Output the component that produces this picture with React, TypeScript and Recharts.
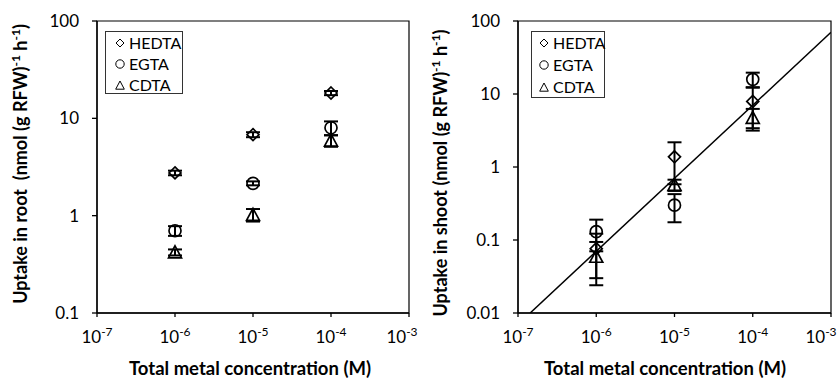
import React from 'react';
import { ScatterChart, Scatter, XAxis, YAxis, ErrorBar, Legend, ReferenceArea } from 'recharts';

const FONT = 'Lato, "Open Sans", sans-serif';

const concentrations = [1e-6, 1e-5, 1e-4];
const xTicks = [1e-7, 1e-6, 1e-5, 1e-4, 1e-3];
const xTickExponents = ['-7', '-6', '-5', '-4', '-3'];
const rootYTicks = [0.1, 1, 10, 100];
const shootYTicks = [0.01, 0.1, 1, 10, 100];
const seriesNames = ['HEDTA', 'EGTA', 'CDTA'];

// Root uptake
const rootHEDTA = [2.75, 6.8, 18.2];
const rootHEDTAErr = [0.15, 0.4, 0.9];
const rootEGTA = [0.7, 2.15, 8.0];
const rootEGTAErr = [0.08, 0.1, 1.3];
const rootCDTA = [0.42, 1.02, 5.9];
const rootCDTAErr = [0.03, 0.15, 0.8];

// Shoot uptake
const shootHEDTA = [0.076, 1.38, 7.9];
const shootHEDTAErr = [0.046, 0.8, 4.5];
const shootEGTA = [0.13, 0.3, 15.9];
const shootEGTAErr = [0.06, 0.125, 3.7];
const shootCDTA = [0.059, 0.57, 4.7];
const shootCDTAErr = [0.035, 0.1, 1.55];

// Fitted line (slope 1 on log-log)
const fitX = [1.43e-7, 1e-3];
const fitY = [0.01, 70];

const toPoints = (ys: number[], errs: number[]) =>
  concentrations.map((x, i) => ({ x, y: ys[i], err: errs[i] }));

const rootSeries = [
  toPoints(rootHEDTA, rootHEDTAErr),
  toPoints(rootEGTA, rootEGTAErr),
  toPoints(rootCDTA, rootCDTAErr),
];
const shootSeries = [
  toPoints(shootHEDTA, shootHEDTAErr),
  toPoints(shootEGTA, shootEGTAErr),
  toPoints(shootCDTA, shootCDTAErr),
];
const fitData = fitX.map((x, i) => ({ x, y: fitY[i] }));

const SW = 1.7;
const DiamondShape = (p: any) => {
  const { cx, cy } = p;
  const s = 6;
  return (
    <path d={`M${cx},${cy - s}L${cx + s},${cy}L${cx},${cy + s}L${cx - s},${cy}Z`} fill="none" stroke="#000" strokeWidth={SW} />
  );
};
const CircleShape = (p: any) => {
  const { cx, cy } = p;
  return <circle cx={cx} cy={cy} r={6} fill="none" stroke="#000" strokeWidth={SW} />;
};
const TriangleShape = (p: any) => {
  const { cx, cy } = p;
  const s = 6.5;
  return (
    <path d={`M${cx},${cy - s}L${cx + s},${cy + s * 0.85}L${cx - s},${cy + s * 0.85}Z`} fill="none" stroke="#000" strokeWidth={SW} />
  );
};
const NoShape = () => <g />;
const shapes = [DiamondShape, CircleShape, TriangleShape];

const LegendIcon = ({ idx }: { idx: number }) => {
  let el: any;
  if (idx === 0) el = <path d="M5,1L9,5L5,9L1,5Z" fill="none" stroke="#000" strokeWidth={1} />;
  else if (idx === 1) el = <circle cx={5} cy={5} r={4.2} fill="none" stroke="#000" strokeWidth={1} />;
  else el = <path d="M5,1L9.3,9.2L0.7,9.2Z" fill="none" stroke="#000" strokeWidth={1} />;
  return (
    <svg width={10} height={10} style={{ display: 'block', flexShrink: 0 }}>
      {el}
    </svg>
  );
};

const makeLegend = (w: number, h: number, rowH: number, padTop: number, padLeft: number, gap: number) => () => (
  <div
    style={{
      width: w,
      height: h,
      boxSizing: 'border-box',
      border: '1px solid #333',
      background: '#fff',
      paddingTop: padTop,
      paddingLeft: padLeft,
      fontFamily: FONT,
      fontSize: 16,
      color: '#000',
      overflow: 'visible',
    }}
  >
    {seriesNames.map((n, i) => (
      <div key={n} style={{ display: 'flex', alignItems: 'center', height: rowH, whiteSpace: 'nowrap' }}>
        <LegendIcon idx={i} />
        <span style={{ marginLeft: gap, lineHeight: 1, flexShrink: 0 }}>{n}</span>
      </div>
    ))}
  </div>
);

const XTick = (props: any) => {
  const { x, y, payload } = props;
  const i = xTicks.indexOf(payload.value);
  return (
    <text x={x} y={y + 24} textAnchor="middle" fontFamily={FONT} fontSize={17} fill="#000">
      <tspan>10</tspan>
      <tspan dy={-7} fontSize={12}>
        {xTickExponents[i]}
      </tspan>
    </text>
  );
};

const yFmt = (v: number) => String(v);

const YTitle = ({ cx, cy, head }: { cx: number; cy: number; head: string }) => (
  <text
    x={cx}
    y={cy}
    transform={`rotate(-90 ${cx} ${cy})`}
    textAnchor="middle"
    fontFamily={FONT}
    fontWeight="bold"
    fontSize={18}
    fill="#000"
    style={{ whiteSpace: 'pre' }}
  >
    <tspan>{head}</tspan>
    <tspan dy={-7} fontSize={12}>-1</tspan>
    <tspan dy={7}> h</tspan>
    <tspan dy={-7} fontSize={12}>-1</tspan>
    <tspan dy={7}>)</tspan>
  </text>
);

const XTitle = ({ cx, y }: { cx: number; y: number }) => (
  <text x={cx} y={y} textAnchor="middle" fontFamily={FONT} fontWeight="bold" fontSize={18.5} fill="#000">
    Total metal concentration (M)
  </text>
);

type PanelProps = {
  width: number;
  rightMargin: number;
  yAxisWidth: number;
  yTicks: number[];
  yDomain: [number, number];
  series: { x: number; y: number; err: number }[][];
  showFit: boolean;
  yTitleHead: string;
  yTitleCy: number;
  xTitleCx: number;
  legend: any;
  legendPos: { left: number; top: number };
};

const Panel = (p: PanelProps) => (
  <ScatterChart width={p.width} height={385} margin={{ top: 21, right: p.rightMargin, bottom: 0, left: 0 }}>
    <XAxis
      type="number"
      dataKey="x"
      scale="log"
      domain={[1e-7, 1e-3]}
      ticks={xTicks}
      allowDataOverflow
      height={72}
      tick={<XTick />}
      tickSize={4}
      axisLine={{ stroke: '#000', strokeWidth: 1.3 }}
      tickLine={{ stroke: '#000', strokeWidth: 1.3 }}
      label={{ content: () => <XTitle cx={p.xTitleCx} y={375} /> }}
    />
    <YAxis
      type="number"
      dataKey="y"
      scale="log"
      domain={p.yDomain}
      ticks={p.yTicks}
      allowDataOverflow
      width={p.yAxisWidth}
      tickFormatter={yFmt}
      tick={{ fill: '#000', fontSize: 17, fontFamily: FONT }}
      tickSize={5}
      tickMargin={13}
      axisLine={{ stroke: '#000', strokeWidth: 1.3 }}
      tickLine={{ stroke: '#000', strokeWidth: 1.3 }}
      label={{ content: () => <YTitle cx={27} cy={p.yTitleCy} head={p.yTitleHead} /> }}
    />
    <ReferenceArea x1={1e-7} x2={1e-3} y1={p.yDomain[0]} y2={p.yDomain[1]} fill="none" stroke="#000" strokeWidth={1.2} />
    {p.showFit && (
      <Scatter
        name="fit"
        data={fitData}
        line={{ stroke: '#000', strokeWidth: 1.5 }}
        shape={NoShape}
        legendType="none"
        isAnimationActive={false}
      />
    )}
    {p.series.map((d, i) => (
      <Scatter key={seriesNames[i]} name={seriesNames[i]} data={d} shape={shapes[i]} isAnimationActive={false}>
        <ErrorBar dataKey="err" direction="y" width={7} strokeWidth={2} stroke="#000" />
      </Scatter>
    ))}
    <Legend
      layout="vertical"
      align="center"
      verticalAlign="middle"
      content={p.legend}
      wrapperStyle={{ left: p.legendPos.left, top: p.legendPos.top, width: 'auto', height: 'auto' }}
    />
  </ScatterChart>
);

export default function App() {
  return (
    <div style={{ position: 'absolute', left: 0, top: 0, width: 839, height: 385, background: '#fff' }}>
      <div style={{ position: 'absolute', left: 0, top: 0 }}>
        <Panel
          width={420}
          rightMargin={11}
          yAxisWidth={97}
          yTicks={rootYTicks}
          yDomain={[0.1, 100]}
          series={rootSeries}
          showFit={false}
          yTitleHead={'Uptake in root  (nmol (g RFW)'}
          yTitleCy={164}
          xTitleCx={250}
          legend={makeLegend(78, 63, 21, 0, 9, 4)}
          legendPos={{ left: 105, top: 31 }}
        />
      </div>
      <div style={{ position: 'absolute', left: 420, top: 0 }}>
        <Panel
          width={419}
          rightMargin={8}
          yAxisWidth={98}
          yTicks={shootYTicks}
          yDomain={[0.01, 100]}
          series={shootSeries}
          showFit={true}
          yTitleHead={'Uptake in shoot (nmol (g RFW)'}
          yTitleCy={173}
          xTitleCx={245}
          legend={makeLegend(74, 67, 22, 0, 7, 4)}
          legendPos={{ left: 111, top: 31 }}
        />
      </div>
    </div>
  );
}
